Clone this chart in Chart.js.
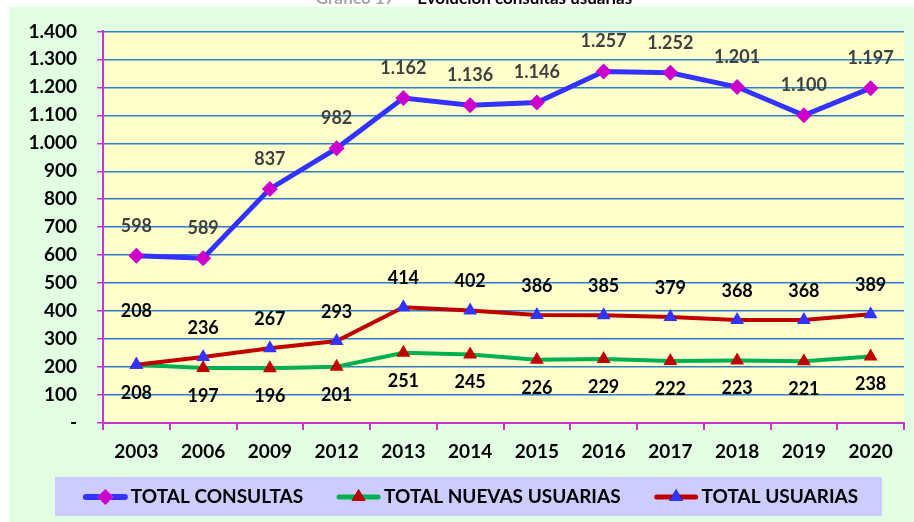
<!DOCTYPE html>
<html><head><meta charset="utf-8">
<script src="https://cdn.jsdelivr.net/npm/chart.js@4.4.0/dist/chart.umd.min.js"></script>
<style>html,body{margin:0;padding:0;background:#fff;overflow:hidden}canvas{display:block}</style>
</head><body>
<canvas id="c" width="914" height="522"></canvas>
<script>
const titleGrey = 'Gráfico 17';
const titleMain = '- Evolución consultas usuarias';
const years = ['2003','2006','2009','2012','2013','2014','2015','2016','2017','2018','2019','2020'];
const totalConsultas = [598, 589, 837, 982, 1162, 1136, 1146, 1257, 1252, 1201, 1100, 1197];
const totalNuevasUsuarias = [208, 197, 196, 201, 251, 245, 226, 229, 222, 223, 221, 238];
const totalUsuarias = [208, 236, 267, 293, 414, 402, 386, 385, 379, 368, 368, 389];
const seriesNames = ['TOTAL CONSULTAS', 'TOTAL NUEVAS USUARIAS', 'TOTAL USUARIAS'];
const yMin = 0, yMax = 1400, yStep = 100;

const FONT = 'Lato, Carlito, "Liberation Sans", sans-serif';
const fmt = v => v === 0 ? '-' : String(v).replace(/\B(?=(\d{3})+(?!\d))/g, '.');

// label styles per dataset (offsets in px from the point)
const labelStyle = [
  {color:'#404040', dy:-30, special:{}},
  {color:'#000000', dy:28, special:{}},
  {color:'#000000', dy:-29, special:{0:-54}}
];

const bgPlugin = {
  id:'bg',
  beforeDraw(chart){
    const ctx = chart.ctx, a = chart.chartArea;
    ctx.save();
    ctx.fillStyle = '#ffffff';
    ctx.fillRect(0,0,chart.width,chart.height);
    ctx.font = 'bold 17px ' + FONT;
    ctx.textBaseline = 'alphabetic';
    ctx.textAlign = 'left';
    const w1 = ctx.measureText(titleGrey + ' ').width;
    const w2 = ctx.measureText(titleMain).width;
    let x = 470 - (w1 + w2)/2;
    ctx.fillStyle = '#A6A6A6';
    ctx.fillText(titleGrey + ' ', x, 4);
    ctx.fillStyle = '#000000';
    ctx.fillText(titleMain, x + w1 + 8, 4);
    ctx.fillStyle = '#E3FFE3';
    ctx.fillRect(9,7,chart.width-9,chart.height-7);
    ctx.fillStyle = '#FFFFCC';
    ctx.fillRect(a.left, a.top, a.right-a.left, a.bottom-a.top);
    ctx.restore();
  }
};

const labelPlugin = {
  id:'labels',
  afterDatasetsDraw(chart){
    const ctx = chart.ctx;
    ctx.save();
    ctx.font = 'bold 18px ' + FONT;
    ctx.textAlign = 'center';
    ctx.textBaseline = 'middle';
    chart.data.datasets.forEach((ds, i) => {
      const meta = chart.getDatasetMeta(i);
      const st = labelStyle[i];
      ctx.fillStyle = st.color;
      meta.data.forEach((pt, j) => {
        const dy = st.special[j] !== undefined ? st.special[j] : st.dy;
        ctx.fillText(fmt(ds.data[j]), pt.x, pt.y + dy);
      });
    });
    ctx.restore();
  },
  afterDraw(chart){
    const ctx = chart.ctx;
    ctx.save();
    const bx = 55, by = 477, bw = 827, bh = 39;
    ctx.fillStyle = '#CCCCFF';
    ctx.fillRect(bx, by, bw, bh);
    ctx.font = 'bold 19px ' + FONT;
    ctx.textBaseline = 'middle';
    ctx.textAlign = 'left';
    const iconW = 45, gapIT = 3, gapItems = 33;
    const ds = chart.data.datasets;
    const widths = ds.map(d => ctx.measureText(d.label).width);
    const total = widths.reduce((s,w)=>s+iconW+gapIT+w,0) + gapItems*(ds.length-1);
    let x = bx + bw/2 - total/2 + 2;
    const cy = by + bh/2 + 0.5;
    ds.forEach((d, i) => {
      ctx.strokeStyle = d.borderColor;
      ctx.lineWidth = d.borderWidth + 1;
      ctx.lineCap = 'round';
      ctx.beginPath();
      ctx.moveTo(x + 3, cy); ctx.lineTo(x + iconW - 3, cy);
      ctx.stroke();
      Chart.helpers.drawPoint(ctx, {
        pointStyle: d.pointStyle, radius: d.pointRadius, rotation: 0,
        borderWidth: 0
      }, x + iconW/2, cy);
      ctx.fillStyle = d.pointBackgroundColor;
      ctx.fill();
      ctx.fillStyle = '#000000';
      ctx.fillText(d.label, x + iconW + gapIT, cy);
      x += iconW + gapIT + widths[i] + gapItems;
    });
    ctx.restore();
  }
};

const AXIS = '#CC33CC', GRID = '#2F7EC1';

new Chart(document.getElementById('c'), {
  type:'line',
  data:{
    labels: years,
    datasets:[
      {label:seriesNames[0], data:totalConsultas, borderColor:'#3333FF', borderWidth:5,
       pointStyle:'rectRot', pointRadius:8, pointHoverRadius:8,
       pointBackgroundColor:'#CC00CC', pointBorderColor:'#CC00CC', pointBorderWidth:0, order:2, tension:0},
      {label:seriesNames[1], data:totalNuevasUsuarias, borderColor:'#00B050', borderWidth:4,
       pointStyle:'triangle', pointRadius:8, pointHoverRadius:8,
       pointBackgroundColor:'#C00000', pointBorderColor:'#C00000', pointBorderWidth:0, order:1, tension:0},
      {label:seriesNames[2], data:totalUsuarias, borderColor:'#C00000', borderWidth:4,
       pointStyle:'triangle', pointRadius:8, pointHoverRadius:8,
       pointBackgroundColor:'#3333FF', pointBorderColor:'#3333FF', pointBorderWidth:0, order:0, tension:0}
    ]
  },
  options:{
    responsive:false,
    animation:false,
    events:[],
    layout:{padding:{left:0, top:31, right:10, bottom:0}},
    plugins:{legend:{display:false}, title:{display:false}, tooltip:{enabled:false}},
    scales:{
      x:{
        offset:true,
        grid:{offset:true, drawOnChartArea:false, drawTicks:true, tickLength:7, color:AXIS, tickColor:AXIS, lineWidth:2},
        border:{display:true, color:AXIS, width:2},
        ticks:{color:'#000', font:{family:FONT, size:19, weight:'bold'}, padding:10, maxRotation:0, autoSkip:false},
        afterFit(s){ s.height = 99; }
      },
      y:{
        min:yMin, max:yMax,
        grid:{color:GRID, lineWidth:1.5, tickColor:AXIS, tickLength:6, drawTicks:true},
        border:{display:true, color:AXIS, width:2},
        ticks:{stepSize:yStep, color:'#000', font:{family:FONT, size:19, weight:'bold'}, padding:20,
          callback:v => fmt(v)},
        afterFit(s){ s.width = 103; }
      }
    }
  },
  plugins:[bgPlugin, labelPlugin]
});
</script>
</body></html>
